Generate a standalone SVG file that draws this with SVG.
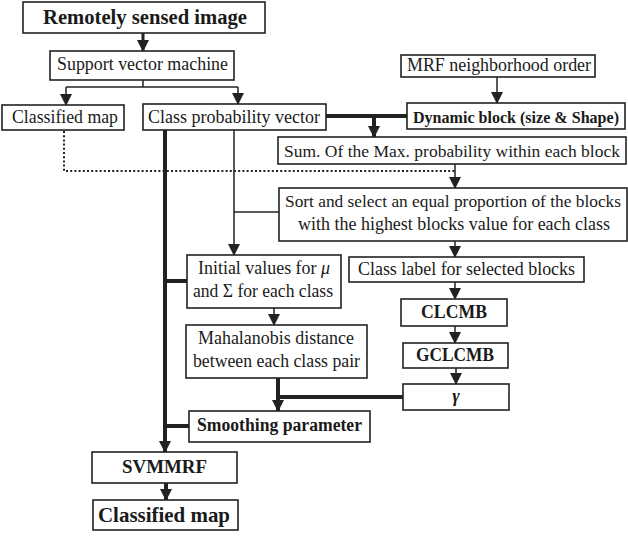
<svg xmlns="http://www.w3.org/2000/svg" width="628" height="536" viewBox="0 0 628 536">
<style>
.box{fill:#fff;stroke:#222;stroke-width:1.6}
.t{font-size:18px;fill:#1a1a1a;text-anchor:middle}
.b{font-weight:bold}
.thin{stroke:#222;stroke-width:1.5;fill:none}
.thick{stroke:#222;stroke-width:4;fill:none}
.dot{stroke:#222;stroke-width:2;fill:none;stroke-dasharray:2 2.2}
</style>
<defs>
<marker id="ah" markerUnits="userSpaceOnUse" markerWidth="12" markerHeight="12" viewBox="0 0 12 12" refX="11" refY="6" orient="auto">
<path d="M0,0 L12,6 L0,12 Z" fill="#222"/>
</marker>
</defs>
<g id="connectors">
<line class="thin" x1="143" y1="33" x2="143" y2="51" marker-end="url(#ah)" style="stroke-width:3"/>
<polyline class="thin" points="143,80 143,87"/>
<line class="thin" x1="66" y1="87" x2="238" y2="87"/>
<line class="thin" x1="66" y1="87" x2="66" y2="105" marker-end="url(#ah)"/>
<line class="thin" x1="238" y1="87" x2="238" y2="104" marker-end="url(#ah)"/>
<line class="thin" x1="497" y1="77" x2="497" y2="103" marker-end="url(#ah)"/>
<line class="thick" x1="326" y1="116" x2="407" y2="116"/>
<line class="thick" x1="374" y1="116" x2="374" y2="137" marker-end="url(#ah)"/>
<polyline class="dot" points="64,131 64,171 455,171"/>
<line class="thin" x1="455" y1="164" x2="455" y2="188" marker-end="url(#ah)"/>
<line class="thin" x1="234" y1="130" x2="234" y2="255" marker-end="url(#ah)"/>
<line class="thin" x1="234" y1="212" x2="279" y2="212"/>
<line class="thin" x1="455" y1="241" x2="455" y2="257" marker-end="url(#ah)"/>
<line class="thin" x1="455" y1="282" x2="455" y2="299" marker-end="url(#ah)"/>
<line class="thin" x1="455" y1="326" x2="455" y2="343" marker-end="url(#ah)"/>
<line class="thin" x1="456" y1="368" x2="456" y2="384" marker-end="url(#ah)"/>
<line class="thin" x1="274" y1="308" x2="274" y2="325" marker-end="url(#ah)"/>
<line class="thick" x1="278" y1="378" x2="278" y2="411" marker-end="url(#ah)"/>
<line class="thick" x1="278" y1="397" x2="403" y2="397"/>
<line class="thick" x1="165" y1="130" x2="165" y2="452" marker-end="url(#ah)"/>
<line class="thick" x1="165" y1="281" x2="187" y2="281"/>
<line class="thick" x1="165" y1="426" x2="189" y2="426"/>
<line class="thick" x1="166" y1="483" x2="166" y2="500" marker-end="url(#ah)"/>
</g>
<g id="nodes" font-family="Liberation Serif, Times New Roman, serif">
<g id="n_remote"><rect class="box" x="23" y="2" width="242" height="31"/><text class="t b" x="145" y="24" style="font-size:20.5px" textLength="204" lengthAdjust="spacingAndGlyphs">Remotely sensed image</text></g>
<g id="n_svm"><rect class="box" x="50" y="51" width="184" height="29"/><text class="t" x="142.5" y="70" textLength="171" lengthAdjust="spacingAndGlyphs">Support vector machine</text></g>
<g id="n_classmap"><rect class="box" x="2" y="105" width="122" height="25"/><text class="t" x="65" y="123" textLength="106" lengthAdjust="spacingAndGlyphs">Classified map</text></g>
<g id="n_cpv"><rect class="box" x="143" y="104" width="183" height="26"/><text class="t" x="234" y="123" textLength="172" lengthAdjust="spacingAndGlyphs">Class probability vector</text></g>
<g id="n_mrf"><rect class="box" x="401" y="55" width="194" height="22"/><text class="t" x="499" y="71" textLength="184" lengthAdjust="spacingAndGlyphs">MRF neighborhood order</text></g>
<g id="n_dyn"><rect class="box" x="407" y="103" width="218" height="26"/><text class="t b" x="516" y="123" style="font-size:16px" textLength="206" lengthAdjust="spacingAndGlyphs">Dynamic block (size &amp; Shape)</text></g>
<g id="n_sum"><rect class="box" x="278" y="137" width="348" height="27"/><text class="t" x="452" y="157" style="font-size:17.5px" textLength="336" lengthAdjust="spacingAndGlyphs">Sum. Of the Max. probability within each block</text></g>
<g id="n_sort"><rect class="box" x="279" y="188" width="348" height="53"/><text class="t" x="453" y="207" style="font-size:17px" textLength="336" lengthAdjust="spacingAndGlyphs">Sort and select an equal proportion of the blocks</text><text class="t" x="454" y="230" textLength="312" lengthAdjust="spacingAndGlyphs">with the highest blocks value for each class</text></g>
<g id="n_init"><rect class="box" x="187" y="255" width="154" height="53"/><text class="t" x="264" y="274" textLength="132" lengthAdjust="spacingAndGlyphs">Initial values for <tspan font-style="italic">μ</tspan></text><text class="t" x="263" y="297" textLength="140" lengthAdjust="spacingAndGlyphs">and Σ for each class</text></g>
<g id="n_label"><rect class="box" x="349" y="257" width="235" height="25"/><text class="t" x="466.5" y="275" textLength="217" lengthAdjust="spacingAndGlyphs">Class label for selected blocks</text></g>
<g id="n_clcmb"><rect class="box" x="401" y="299" width="106" height="27"/><text class="t b" x="454" y="318" textLength="66" lengthAdjust="spacingAndGlyphs">CLCMB</text></g>
<g id="n_gclcmb"><rect class="box" x="403" y="343" width="105" height="25"/><text class="t b" x="455" y="361" textLength="78" lengthAdjust="spacingAndGlyphs">GCLCMB</text></g>
<g id="n_gamma"><rect class="box" x="403" y="384" width="106" height="26"/><text class="t b" x="456" y="402" font-style="italic">γ</text></g>
<g id="n_maha"><rect class="box" x="186" y="325" width="181" height="53"/><text class="t" x="276" y="344" textLength="156" lengthAdjust="spacingAndGlyphs">Mahalanobis distance</text><text class="t" x="276.5" y="367" textLength="167" lengthAdjust="spacingAndGlyphs">between each class pair</text></g>
<g id="n_smooth"><rect class="box" x="189" y="411" width="181" height="31"/><text class="t b" x="279.5" y="431" textLength="165" lengthAdjust="spacingAndGlyphs">Smoothing parameter</text></g>
<g id="n_svmmrf"><rect class="box" x="92" y="452" width="145" height="31"/><text class="t b" x="164.5" y="473" style="font-size:19px" textLength="85" lengthAdjust="spacingAndGlyphs">SVMMRF</text></g>
<g id="n_final"><rect class="box" x="93" y="500" width="145" height="30"/><text class="t b" x="164" y="522" style="font-size:21px" textLength="132" lengthAdjust="spacingAndGlyphs">Classified map</text></g>
</g>
</svg>
